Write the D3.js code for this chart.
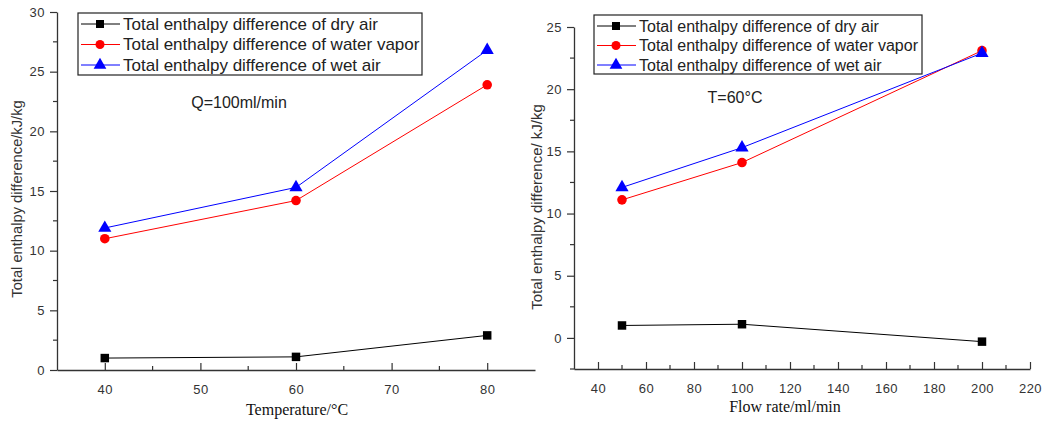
<!DOCTYPE html>
<html>
<head>
<meta charset="utf-8">
<script src="https://cdn.jsdelivr.net/npm/d3@7"></script>
<style>
  body { margin: 0; background: #fff; }
  svg { display: block; }
  .tick text { font-family: Arial, "Liberation Sans", sans-serif; font-size: 13px; fill: #333; letter-spacing: 0.5px; }
</style>
</head>
<body>
<div id="chart"></div>
<script>
// ---- data ----
const seriesNames = [
    "Total enthalpy difference of dry air",
    "Total enthalpy difference of water vapor",
    "Total enthalpy difference of wet air"
];
const seriesColors = ["#000000", "#ff0000", "#0000ff"];
const seriesSymbols = [d3.symbolSquare, d3.symbolCircle, d3.symbolTriangle];

// left: vary temperature at Q=100ml/min
const temperatures = [40, 60, 80];
const tempDryAir = [1.0, 1.1, 2.9];
const tempWaterVapor = [11.0, 14.2, 23.9];
const tempWetAir = [11.9, 15.3, 26.8];
const tempXTicks = [40, 50, 60, 70, 80];
const tempYTicks = [0, 5, 10, 15, 20, 25, 30];

// right: vary flow rate at T=60°C
const flowRates = [50, 100, 200];
const flowDryAir = [1.0, 1.1, -0.3];
const flowWaterVapor = [11.1, 14.1, 23.1];
const flowWetAir = [12.1, 15.3, 22.9];
const flowXTicks = [40, 60, 80, 100, 120, 140, 160, 180, 200, 220];
const flowYTicks = [0, 5, 10, 15, 20, 25];

const width = 1043, height = 423;

const svg = d3.select("#chart").append("svg")
    .attr("width", width)
    .attr("height", height);

const panels = [
    {
        x: temperatures, ys: [tempDryAir, tempWaterVapor, tempWetAir],
        xDomain: [35, 85], yDomain: [0, 30],
        xRange: [57, 535], yRange: [370, 12],
        xTicks: tempXTicks, xMinor: d3.range(45, 85, 10),
        yTicks: tempYTicks, yMinor: d3.range(2.5, 30, 5),
        xTitle: "Temperature/°C", xTitlePos: [297, 415],
        yTitle: "Total enthalpy difference/kJ/kg", yTitlePos: [17, 199], yTitleSize: 14.7,
        note: "Q=100ml/min", notePos: [239, 108],
        legend: {x: 78, y: 13, w: 344, h: 62, fs: 17, row: 20.5}
    },
    {
        x: flowRates, ys: [flowDryAir, flowWaterVapor, flowWetAir],
        xDomain: [30, 220], yDomain: [-2.5, 25],
        xRange: [574, 1030], yRange: [369, 27],
        xTicks: flowXTicks, xMinor: d3.range(50, 220, 20),
        yTicks: flowYTicks, yMinor: d3.range(-2.5, 25, 5),
        xTitle: "Flow rate/ml/min", xTitlePos: [785, 412],
        yTitle: "Total enthalpy difference/ kJ/kg", yTitlePos: [537, 207], yTitleSize: 15,
        note: "T=60°C", notePos: [735, 103],
        legend: {x: 594, y: 15, w: 328, h: 59, fs: 16, row: 19.5}
    }
];

panels.forEach(p => {
    const g = svg.append("g");
    const x = d3.scaleLinear().domain(p.xDomain).range(p.xRange);
    const y = d3.scaleLinear().domain(p.yDomain).range(p.yRange);
    const axisColor = "#333";

    // x axis, ticks pointing up into the plot
    const xAxis = g.append("g")
        .attr("transform", `translate(0,${p.yRange[0]})`)
        .call(d3.axisBottom(x).tickValues(p.xTicks).tickSizeInner(-7).tickSizeOuter(0).tickPadding(15));
    xAxis.select(".domain").attr("stroke", axisColor).attr("stroke-width", 1.3);
    xAxis.selectAll(".tick line").attr("stroke", axisColor).attr("stroke-width", 1.2);
    g.append("g")
        .attr("transform", `translate(0,${p.yRange[0]})`)
        .selectAll("line").data(p.xMinor).join("line")
        .attr("x1", d => x(d)).attr("x2", d => x(d))
        .attr("y1", 0).attr("y2", -4)
        .attr("stroke", axisColor).attr("stroke-width", 1.2);

    // y axis, ticks pointing out
    const yAxis = g.append("g")
        .attr("transform", `translate(${p.xRange[0]},0)`)
        .call(d3.axisLeft(y).tickValues(p.yTicks).tickSizeInner(7).tickSizeOuter(0).tickPadding(5));
    yAxis.select(".domain").attr("stroke", axisColor).attr("stroke-width", 1.3);
    yAxis.selectAll(".tick line").attr("stroke", axisColor).attr("stroke-width", 1.2);
    g.append("g")
        .attr("transform", `translate(${p.xRange[0]},0)`)
        .selectAll("line").data(p.yMinor).join("line")
        .attr("x1", 0).attr("x2", -4)
        .attr("y1", d => y(d)).attr("y2", d => y(d))
        .attr("stroke", axisColor).attr("stroke-width", 1.2);

    // titles
    g.append("text")
        .attr("x", p.xTitlePos[0]).attr("y", p.xTitlePos[1])
        .attr("text-anchor", "middle")
        .style("font-family", "'Liberation Serif', 'Times New Roman', serif")
        .style("font-size", "16px").attr("fill", "#111")
        .text(p.xTitle);
    g.append("text")
        .attr("transform", `translate(${p.yTitlePos[0]},${p.yTitlePos[1]}) rotate(-90)`)
        .attr("text-anchor", "middle")
        .attr("dy", "0.35em")
        .style("font-family", "Arial, 'Liberation Sans', sans-serif")
        .style("font-size", p.yTitleSize + "px").attr("fill", "#333")
        .text(p.yTitle);
    g.append("text")
        .attr("x", p.notePos[0]).attr("y", p.notePos[1])
        .attr("text-anchor", "middle")
        .style("font-family", "Arial, 'Liberation Sans', sans-serif")
        .style("font-size", "16px").attr("fill", "#222")
        .text(p.note);

    // series
    const line = d3.line().x(d => x(d[0])).y(d => y(d[1]));
    p.ys.forEach((vals, i) => {
        const pts = p.x.map((v, j) => [v, vals[j]]);
        g.append("path")
            .datum(pts)
            .attr("fill", "none")
            .attr("stroke", seriesColors[i])
            .attr("stroke-width", 1)
            .attr("d", line);
        g.selectAll(null).data(pts).join("path")
            .attr("transform", d => `translate(${x(d[0])},${y(d[1])})`)
            .attr("d", d3.symbol().type(seriesSymbols[i]).size(i === 2 ? 75 : 72))
            .attr("fill", seriesColors[i]);
    });

    // legend
    const L = p.legend;
    const lg = g.append("g").attr("transform", `translate(${L.x},${L.y})`);
    lg.append("rect")
        .attr("width", L.w).attr("height", L.h)
        .attr("fill", "#fff").attr("stroke", "#222").attr("stroke-width", 1.2);
    seriesNames.forEach((name, i) => {
        const cy = 11 + i * L.row;
        const row = lg.append("g").attr("transform", `translate(0,${cy})`);
        row.append("line")
            .attr("x1", 3).attr("x2", 42)
            .attr("stroke", seriesColors[i]).attr("stroke-width", 1);
        row.append("path")
            .attr("transform", "translate(22,0)")
            .attr("d", d3.symbol().type(seriesSymbols[i]).size(i === 2 ? 70 : 64))
            .attr("fill", seriesColors[i]);
        row.append("text")
            .attr("x", 45).attr("dy", "0.35em")
            .style("font-family", "Arial, 'Liberation Sans', sans-serif")
            .style("font-size", L.fs + "px").attr("fill", "#222")
            .text(name);
    });
});
</script>
</body>
</html>
